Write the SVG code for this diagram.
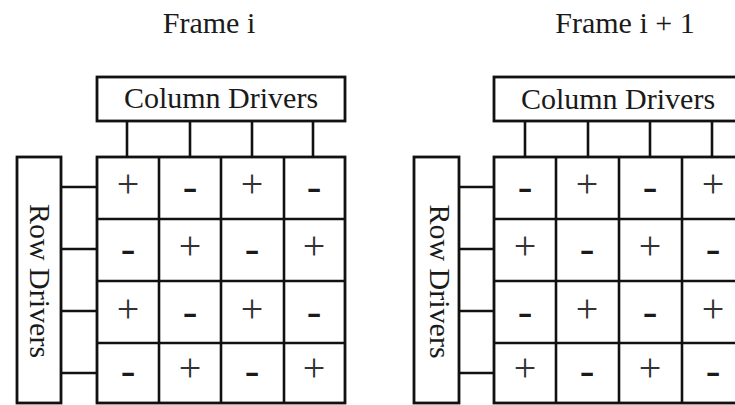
<svg xmlns="http://www.w3.org/2000/svg" width="735" height="405" viewBox="0 0 735 405">
<style>
.bx{fill:#fff;stroke:#111;stroke-width:2.8}
.ln{stroke:#111;stroke-width:2.6;fill:none}
.t{font-family:"Liberation Serif","Times New Roman",serif;font-size:30px;fill:#1a1a1a;text-anchor:middle}
.p{font-family:"Liberation Serif","Times New Roman",serif;font-size:40px;fill:#333;text-anchor:middle}
.m{font-family:"Liberation Serif","Times New Roman",serif;font-size:44px;fill:#1a1a1a;text-anchor:middle}
</style>
<rect width="735" height="405" fill="#fff"/>
<g id="title-left"><text class="t" x="209" y="33">Frame i</text></g>
<g id="title-right"><text class="t" x="625" y="33">Frame i + 1</text></g>

<g id="connectors">
<line class="ln" x1="127" y1="121" x2="127" y2="157"/>
<line class="ln" x1="190" y1="121" x2="190" y2="157"/>
<line class="ln" x1="252" y1="121" x2="252" y2="157"/>
<line class="ln" x1="313" y1="121" x2="313" y2="157"/>
<line class="ln" x1="61" y1="187" x2="97" y2="187"/>
<line class="ln" x1="61" y1="249" x2="97" y2="249"/>
<line class="ln" x1="61" y1="311" x2="97" y2="311"/>
<line class="ln" x1="61" y1="373" x2="97" y2="373"/>
<line class="ln" x1="525" y1="121" x2="525" y2="157"/>
<line class="ln" x1="588" y1="121" x2="588" y2="157"/>
<line class="ln" x1="650" y1="121" x2="650" y2="157"/>
<line class="ln" x1="712" y1="121" x2="712" y2="157"/>
<line class="ln" x1="459" y1="187" x2="494" y2="187"/>
<line class="ln" x1="459" y1="249" x2="494" y2="249"/>
<line class="ln" x1="459" y1="311" x2="494" y2="311"/>
<line class="ln" x1="459" y1="373" x2="494" y2="373"/>
</g>

<g id="col-drivers-left"><rect class="bx" x="97" y="77" width="248" height="44"/><text class="t" x="221" y="108">Column Drivers</text></g>
<g id="row-drivers-left"><rect class="bx" x="17" y="157" width="44" height="246"/><text class="t" transform="translate(30,281) rotate(90)">Row Drivers</text></g>
<g id="col-drivers-right"><rect class="bx" x="494" y="77" width="248" height="44"/><text class="t" x="618" y="109">Column Drivers</text></g>
<g id="row-drivers-right"><rect class="bx" x="414" y="157" width="45" height="246"/><text class="t" transform="translate(429.5,281.5) rotate(90)">Row Drivers</text></g>

<g id="grid-left">
<rect class="bx" x="97" y="157" width="248" height="246"/>
<line class="ln" x1="159" y1="157" x2="159" y2="403"/>
<line class="ln" x1="221" y1="157" x2="221" y2="403"/>
<line class="ln" x1="284" y1="157" x2="284" y2="403"/>
<line class="ln" x1="97" y1="219" x2="345" y2="219"/>
<line class="ln" x1="97" y1="281" x2="345" y2="281"/>
<line class="ln" x1="97" y1="343" x2="345" y2="343"/>
<text class="p" x="128" y="197">+</text><text class="m" x="190" y="201">-</text><text class="p" x="252" y="197">+</text><text class="m" x="314" y="201">-</text>
<text class="m" x="128" y="263">-</text><text class="p" x="190" y="259">+</text><text class="m" x="252" y="263">-</text><text class="p" x="314" y="259">+</text>
<text class="p" x="128" y="322">+</text><text class="m" x="190" y="326">-</text><text class="p" x="252" y="322">+</text><text class="m" x="314" y="326">-</text>
<text class="m" x="128" y="385">-</text><text class="p" x="190" y="381">+</text><text class="m" x="252" y="385">-</text><text class="p" x="314" y="381">+</text>
</g>

<g id="grid-right">
<rect class="bx" x="494" y="157" width="250" height="246"/>
<line class="ln" x1="556" y1="157" x2="556" y2="403"/>
<line class="ln" x1="619" y1="157" x2="619" y2="403"/>
<line class="ln" x1="682" y1="157" x2="682" y2="403"/>
<line class="ln" x1="494" y1="219" x2="744" y2="219"/>
<line class="ln" x1="494" y1="281" x2="744" y2="281"/>
<line class="ln" x1="494" y1="343" x2="744" y2="343"/>
<text class="m" x="525" y="201">-</text><text class="p" x="587" y="197">+</text><text class="m" x="650" y="201">-</text><text class="p" x="713" y="197">+</text>
<text class="p" x="525" y="259">+</text><text class="m" x="587" y="263">-</text><text class="p" x="650" y="259">+</text><text class="m" x="713" y="263">-</text>
<text class="m" x="525" y="326">-</text><text class="p" x="587" y="322">+</text><text class="m" x="650" y="326">-</text><text class="p" x="713" y="322">+</text>
<text class="p" x="525" y="381">+</text><text class="m" x="587" y="385">-</text><text class="p" x="650" y="381">+</text><text class="m" x="713" y="385">-</text>
</g>
</svg>
